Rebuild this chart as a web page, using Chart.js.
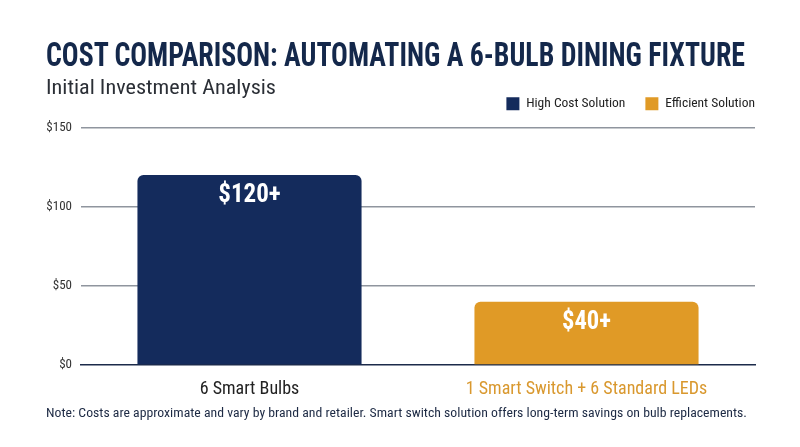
<!DOCTYPE html>
<html>
<head>
<meta charset="utf-8">
<script src="https://cdn.jsdelivr.net/npm/chart.js@4.4.1/dist/chart.umd.min.js"></script>
<style>
    body { margin: 0; background: #fff; overflow: hidden; }
    #wrap { position: relative; width: 800px; height: 447px; }
    #chart { position: absolute; left: 0; top: 0; }
    .txt {
        position: absolute; left: 46px; white-space: nowrap; line-height: 1;
        transform-origin: 0 0;
        font-family: "Roboto Condensed", "DejaVu Sans Condensed", sans-serif;
    }
    #title { top: 38px; font-size: 33px; font-weight: bold; color: #14284b; }
    #subtitle { top: 77px; font-size: 21px; color: #2b2f36; }
    #note { top: 406px; font-size: 13px; color: #1d2a44; }
</style>
</head>
<body>
<div id="wrap">
    <canvas id="chart" width="800" height="447"></canvas>
    <div class="txt" id="title" data-w="699">COST COMPARISON: AUTOMATING A 6-BULB DINING FIXTURE</div>
    <div class="txt" id="subtitle" data-w="230">Initial Investment Analysis</div>
    <div class="txt" id="note" data-w="701">Note: Costs are approximate and vary by brand and retailer. Smart switch solution offers long-term savings on bulb replacements.</div>
</div>
<script>
// Dados do gráfico
const categories = ['6 Smart Bulbs', '1 Smart Switch + 6 Standard LEDs'];
const seriesNames = ['High Cost Solution', 'Efficient Solution'];
const highCostValues = [120, null];
const efficientValues = [null, 40];
const valueLabels = ['$120+', '$40+'];
const yTicks = [0, 50, 100, 150];

const NAVY = '#142b5c';
const ORANGE = '#e09a26';
const FONT = '"Roboto Condensed", "DejaVu Sans Condensed", sans-serif';
const categoryColors = ['#222222', '#d9982e'];

// Ajusta a largura dos textos (fonte condensada)
document.querySelectorAll('.txt').forEach(el => {
    const target = parseFloat(el.dataset.w);
    const w = el.getBoundingClientRect().width;
    if (w > 0) el.style.transform = 'scaleX(' + (target / w) + ')';
});

// Rótulos de valor dentro das barras (largura ajustada ao original)
const valueLabelPlugin = {
    id: 'valueLabels',
    afterDatasetsDraw(chart) {
        const ctx = chart.ctx;
        const targetWidths = [64, 49];
        chart.data.datasets.forEach((ds, di) => {
            chart.getDatasetMeta(di).data.forEach((bar, i) => {
                if (ds.data[i] === null) return;
                ctx.save();
                ctx.fillStyle = '#ffffff';
                ctx.font = 'bold 25px ' + FONT;
                ctx.textAlign = 'center';
                ctx.textBaseline = 'middle';
                const w = ctx.measureText(valueLabels[i]).width;
                const sx = Math.min(1, targetWidths[i] / w);
                ctx.translate(bar.x, bar.y + 21);
                ctx.scale(sx, 1);
                ctx.fillText(valueLabels[i], 0, 0);
                ctx.restore();
            });
        });
    }
};

// Empurra a legenda até a borda direita e um pouco para cima
const legendNudge = {
    id: 'legendNudge',
    afterLayout(chart) {
        const lg = chart.legend;
        lg.left += 20; lg.right += 20;
        lg.top -= 7; lg.bottom -= 7;
    }
};

new Chart(document.getElementById('chart'), {
    type: 'bar',
    data: {
        labels: categories,
        datasets: [{
            label: seriesNames[0],
            data: highCostValues,
            backgroundColor: NAVY
        }, {
            label: seriesNames[1],
            data: efficientValues,
            backgroundColor: ORANGE
        }]
    },
    options: {
        responsive: false,
        animation: false,
        grouped: false,
        categoryPercentage: 1,
        barPercentage: 0.665,
        borderSkipped: false,
        borderRadius: { topLeft: 6, topRight: 6, bottomLeft: 0, bottomRight: 0 },
        layout: { padding: { left: 0, right: 45, top: 84, bottom: 0 } },
        scales: {
            y: {
                min: 0,
                max: 150,
                afterBuildTicks: axis => { axis.ticks = yTicks.map(v => ({ value: v })); },
                afterFit: axis => { axis.width = 81; },
                border: { display: false },
                grid: {
                    drawTicks: false,
                    lineWidth: 1.5,
                    color: c => c.tick.value === 0 ? 'rgba(0,0,0,0)' : '#8f959e'
                },
                ticks: {
                    padding: 9,
                    color: '#333333',
                    font: { family: FONT, size: 13 },
                    callback: v => '$' + v
                }
            },
            x: {
                afterFit: axis => { axis.height = 82; },
                border: { display: true, color: '#1c2b4a', width: 1.5 },
                grid: { display: false },
                ticks: {
                    padding: 6,
                    font: { family: FONT, size: 18 },
                    color: c => categoryColors[c.index]
                }
            }
        },
        plugins: {
            legend: {
                position: 'top',
                align: 'end',
                labels: {
                    boxWidth: 13,
                    boxHeight: 13,
                    padding: 20,
                    color: '#222222',
                    font: { family: FONT, size: 13.5 }
                }
            },
            tooltip: { enabled: false }
        }
    },
    plugins: [valueLabelPlugin, legendNudge]
});
</script>
</body>
</html>
